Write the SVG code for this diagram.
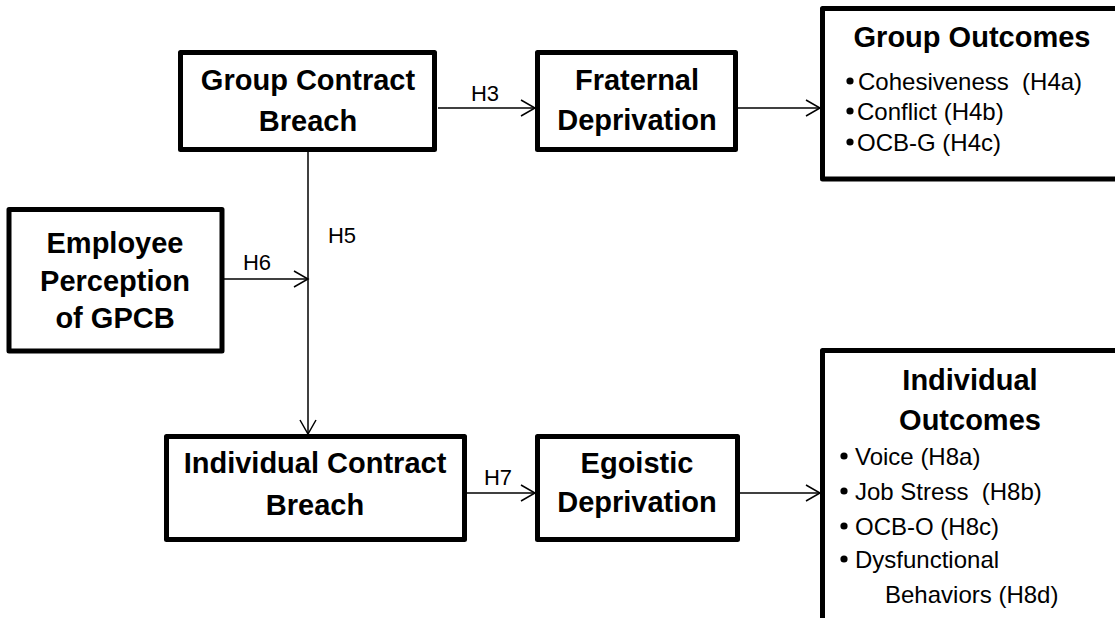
<svg xmlns="http://www.w3.org/2000/svg" width="1115" height="618" viewBox="0 0 1115 618">
<style>
.box{fill:#fff;stroke:#000;stroke-width:5;stroke-linejoin:round}
.t{font-family:"Liberation Sans",Arial,sans-serif;font-weight:bold;font-size:29px;fill:#000;text-anchor:middle}
.r{font-family:"Liberation Sans",Arial,sans-serif;font-size:24px;fill:#000}
.h{font-family:"Liberation Sans",Arial,sans-serif;font-size:22px;fill:#000;text-anchor:middle}
.c{fill:none;stroke:#000;stroke-width:1.5}
.d{fill:#000}
</style>
<defs>
<marker id="arr" viewBox="-16 -10 18 20" refX="0" refY="0" markerWidth="18" markerHeight="20" markerUnits="userSpaceOnUse" orient="auto">
<path d="M-14,-8 L0,0 L-14,8" fill="none" stroke="#000" stroke-width="1.5"/>
</marker>
</defs>
<rect width="1115" height="618" fill="#fff"/>
<g id="connectors">
<line class="c" x1="438" y1="108" x2="535" y2="108" marker-end="url(#arr)"/>
<line class="c" x1="738" y1="108" x2="820" y2="108" marker-end="url(#arr)"/>
<line class="c" x1="224" y1="279" x2="308" y2="279" marker-end="url(#arr)"/>
<line class="c" x1="308" y1="152" x2="308" y2="434" marker-end="url(#arr)"/>
<line class="c" x1="467" y1="493" x2="535" y2="493" marker-end="url(#arr)"/>
<line class="c" x1="740" y1="493" x2="820" y2="493" marker-end="url(#arr)"/>
<text class="h" x="485" y="101">H3</text>
<text class="h" x="342" y="243">H5</text>
<text class="h" x="257" y="270">H6</text>
<text class="h" x="498" y="485">H7</text>
</g>
<g id="gcb">
<rect class="box" x="180.5" y="52.5" width="254" height="97"/>
<text class="t" x="308" y="90">Group Contract</text>
<text class="t" x="308" y="131">Breach</text>
</g>
<g id="fraternal">
<rect class="box" x="537.5" y="52.5" width="198" height="97"/>
<text class="t" x="637" y="90">Fraternal</text>
<text class="t" x="637" y="130">Deprivation</text>
</g>
<g id="group-outcomes">
<rect class="box" x="822.5" y="8.5" width="300" height="170.5"/>
<text class="t" x="972" y="47">Group Outcomes</text>
<circle class="d" cx="850" cy="81" r="3.6"/>
<text class="r" x="858" y="90" xml:space="preserve">Cohesiveness  (H4a)</text>
<circle class="d" cx="850" cy="111" r="3.6"/>
<text class="r" x="857" y="120">Conflict (H4b)</text>
<circle class="d" cx="850" cy="142" r="3.6"/>
<text class="r" x="857" y="151">OCB-G (H4c)</text>
</g>
<g id="employee">
<rect class="box" x="9" y="209.5" width="213" height="141.5"/>
<text class="t" x="115" y="253">Employee</text>
<text class="t" x="115" y="291">Perception</text>
<text class="t" x="115" y="328">of GPCB</text>
</g>
<g id="icb">
<rect class="box" x="166.5" y="436.5" width="298" height="103"/>
<text class="t" x="315" y="473">Individual Contract</text>
<text class="t" x="315" y="515">Breach</text>
</g>
<g id="egoistic">
<rect class="box" x="537.5" y="436.5" width="200" height="103"/>
<text class="t" x="637" y="473">Egoistic</text>
<text class="t" x="637" y="512">Deprivation</text>
</g>
<g id="individual-outcomes">
<rect class="box" x="822.5" y="350.5" width="300" height="300"/>
<text class="t" x="970" y="390">Individual</text>
<text class="t" x="970" y="430">Outcomes</text>
<circle class="d" cx="844" cy="456" r="3.6"/>
<text class="r" x="855" y="465">Voice (H8a)</text>
<circle class="d" cx="844" cy="491" r="3.6"/>
<text class="r" x="855" y="500" xml:space="preserve">Job Stress  (H8b)</text>
<circle class="d" cx="844" cy="526" r="3.6"/>
<text class="r" x="855" y="535">OCB-O (H8c)</text>
<circle class="d" cx="844" cy="559" r="3.6"/>
<text class="r" x="855" y="568">Dysfunctional</text>
<text class="r" x="885" y="603">Behaviors (H8d)</text>
</g>
</svg>
